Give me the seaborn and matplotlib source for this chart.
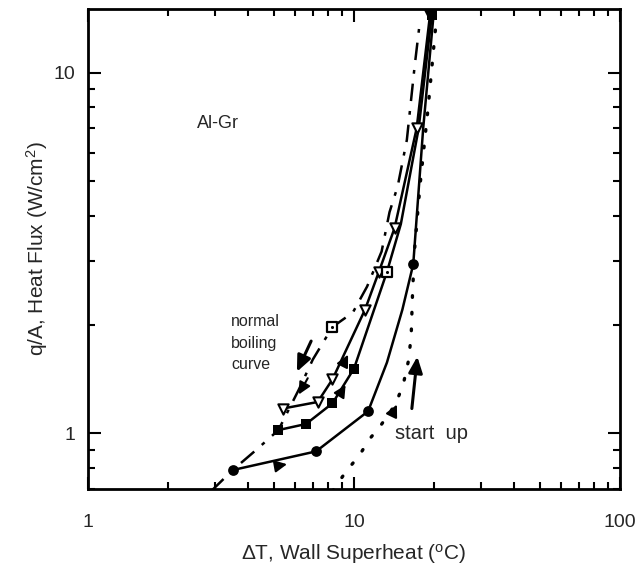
import matplotlib
matplotlib.use("Agg")
import matplotlib.pyplot as plt
import seaborn as sns
import pandas as pd
from matplotlib.ticker import FixedLocator, FixedFormatter, NullFormatter

# ---------------- data ----------------
# normal boiling curve (dash-dot)
normal_x = [2.9, 3.5, 4.3, 5.2, 6.2, 7.0, 8.3, 9.9, 11.2, 12.7, 13.6, 14.6, 15.8, 16.9, 17.7]
normal_y = [0.69, 0.79, 0.90, 1.02, 1.32, 1.60, 1.97, 2.16, 2.55, 3.19, 4.10, 4.84, 6.5, 10.4, 13.9]
normal_mk_x = [8.3]
normal_mk_y = [1.97]

# start-up curve (dotted)
start_x = [8.3, 9.3, 10.5, 11.4, 12.6, 14.3, 15.3, 16.0, 16.4, 16.6, 16.9, 17.7, 19.0, 20.2, 20.5]
start_y = [0.69, 0.78, 0.87, 0.96, 1.05, 1.20, 1.36, 1.58, 1.85, 2.45, 3.24, 4.84, 8.0, 13.0, 14.3]

# open triangles (solid)
tri_x = [5.4, 7.3, 8.3, 11.0, 12.4, 14.2, 17.2, 19.3]
tri_y = [1.17, 1.22, 1.41, 2.20, 2.80, 3.70, 7.0, 14.4]

# filled squares (solid line, markers)
sq_x = [5.2, 6.6, 8.3, 10.0, 13.3, 15.0, 17.5, 19.6]
sq_y = [1.02, 1.06, 1.21, 1.51, 2.80, 3.80, 7.0, 14.4]
sq_mk_x = [5.2, 6.6, 8.3, 10.0, 19.6]
sq_mk_y = [1.02, 1.06, 1.21, 1.51, 14.4]
sq_open_x = [13.3]
sq_open_y = [2.80]

# filled circles (solid)
circ_line_x = [3.5, 7.2, 11.3, 13.3, 15.2, 16.7, 18.2, 19.9]
circ_line_y = [0.79, 0.89, 1.15, 1.57, 2.20, 2.94, 7.0, 14.4]
circ_mk_x = [3.5, 7.2, 11.3, 16.7]
circ_mk_y = [0.79, 0.89, 1.15, 2.94]

x_ticks = [1, 10, 100]
x_tick_labels = ["1", "10", "100"]
y_ticks = [1, 10]
y_tick_labels = ["1", "10"]

# ---------------- style ----------------
sns.set_theme(style="white")
plt.rcParams["font.family"] = ["Liberation Sans", "DejaVu Sans"]
plt.rcParams["mathtext.fontset"] = "custom"
plt.rcParams["mathtext.rm"] = "Liberation Sans"
plt.rcParams["mathtext.it"] = "Liberation Sans"

fig = plt.figure(figsize=(6.4, 5.72), dpi=100)
ax = fig.add_axes([88 / 640, (572 - 489) / 572, (620 - 88) / 640, (489 - 9) / 572])
ax.set_xscale("log")
ax.set_yscale("log")

K = "black"
# normal boiling curve
sns.lineplot(x=normal_x, y=normal_y, sort=False, estimator=None, color=K, lw=1.8, ax=ax)
ax.lines[-1].set_dashes([7, 4, 1.5, 4])
sns.scatterplot(x=normal_mk_x, y=normal_mk_y, marker="s", s=55, facecolor="white",
                edgecolor=K, linewidth=1.6, ax=ax, zorder=5)
sns.scatterplot(x=normal_mk_x, y=normal_mk_y, marker="o", s=5, color=K, linewidth=0, ax=ax, zorder=6)

# start up curve
sns.lineplot(x=start_x, y=start_y, sort=False, estimator=None, color=K, lw=2.4, ax=ax)
ax.lines[-1].set_dashes([0.5, 4.5])
ax.lines[-1].set_dash_capstyle("round")

# triangles
sns.lineplot(x=tri_x, y=tri_y, sort=False, estimator=None, color=K, lw=1.8, ax=ax)
sns.scatterplot(x=tri_x, y=tri_y, marker="v", s=55, facecolor="white", edgecolor=K,
                linewidth=1.5, ax=ax, zorder=5)

# squares
sns.lineplot(x=sq_x, y=sq_y, sort=False, estimator=None, color=K, lw=1.8, ax=ax)
sns.scatterplot(x=sq_mk_x, y=sq_mk_y, marker="s", s=60, color=K, linewidth=0, ax=ax, zorder=5)
sns.scatterplot(x=sq_open_x, y=sq_open_y, marker="s", s=55, facecolor="white",
                edgecolor=K, linewidth=1.6, ax=ax, zorder=5)
sns.scatterplot(x=sq_open_x, y=sq_open_y, marker="o", s=5, color=K, linewidth=0, ax=ax, zorder=6)

# circles
sns.lineplot(x=circ_line_x, y=circ_line_y, sort=False, estimator=None, color=K, lw=1.8, ax=ax)
sns.scatterplot(x=circ_mk_x, y=circ_mk_y, marker="o", s=60, color=K, linewidth=0, ax=ax, zorder=5)

# arrows
big = dict(arrowstyle="-|>,head_length=0.8,head_width=0.35", color=K, lw=2.2, shrinkA=0, shrinkB=0)
small = dict(arrowstyle="-|>,head_length=0.6,head_width=0.3", color=K, lw=1.5, shrinkA=0, shrinkB=0)
ax.annotate("", xy=(17.3, 1.63), xytext=(16.5, 1.17), arrowprops=big)
ax.annotate("", xy=(6.1, 1.48), xytext=(6.9, 1.80), arrowprops=big)
ax.annotate("", xy=(6.2, 1.28), xytext=(6.7, 1.42), arrowprops=small)
ax.annotate("", xy=(9.5, 1.65), xytext=(9.1, 1.55), arrowprops=small)
ax.annotate("", xy=(9.3, 1.36), xytext=(8.9, 1.29), arrowprops=small)
ax.annotate("", xy=(5.6, 0.82), xytext=(5.1, 0.81), arrowprops=small)
ax.annotate("", xy=(14.5, 1.2), xytext=(14.1, 1.15), arrowprops=small)

# texts
ax.text(2.57, 7.2, "Al-Gr", fontsize=13, va="center", ha="left")
ax.text(3.45, 2.14, "normal\nboiling\ncurve", fontsize=11.5, va="top", ha="left", linespacing=1.55)
ax.text(14.3, 1.0, "start  up", fontsize=14.5, va="center", ha="left")

# axes
ax.set_xlim(1, 100)
ax.set_ylim(0.7, 15)
ax.xaxis.set_major_locator(FixedLocator(x_ticks))
ax.xaxis.set_major_formatter(FixedFormatter(x_tick_labels))
ax.yaxis.set_major_locator(FixedLocator(y_ticks))
ax.yaxis.set_major_formatter(FixedFormatter(y_tick_labels))
ax.xaxis.set_minor_locator(FixedLocator([m * d for d in (1, 10) for m in range(2, 10)]))
ax.yaxis.set_minor_locator(FixedLocator([0.7, 0.8, 0.9] + [m for m in range(2, 10)]))
ax.xaxis.set_minor_formatter(NullFormatter())
ax.yaxis.set_minor_formatter(NullFormatter())
ax.tick_params(which="both", direction="in", top=True, right=True, bottom=True, left=True,
               width=1.5, color=K, labelsize=14)
ax.tick_params(which="major", length=9)
ax.tick_params(which="minor", length=5)
ax.tick_params(axis="x", pad=18)
ax.tick_params(axis="y", pad=9)
for sp in ax.spines.values():
    sp.set_linewidth(2)
    sp.set_color(K)

ax.set_xlabel(r"ΔT, Wall Superheat ($^{\rm o}$C)", fontsize=15, labelpad=8)
ax.set_ylabel(r"q/A, Heat Flux (W/cm$^{2}$)", fontsize=15, labelpad=3)

fig.savefig("out.png", dpi=100)
